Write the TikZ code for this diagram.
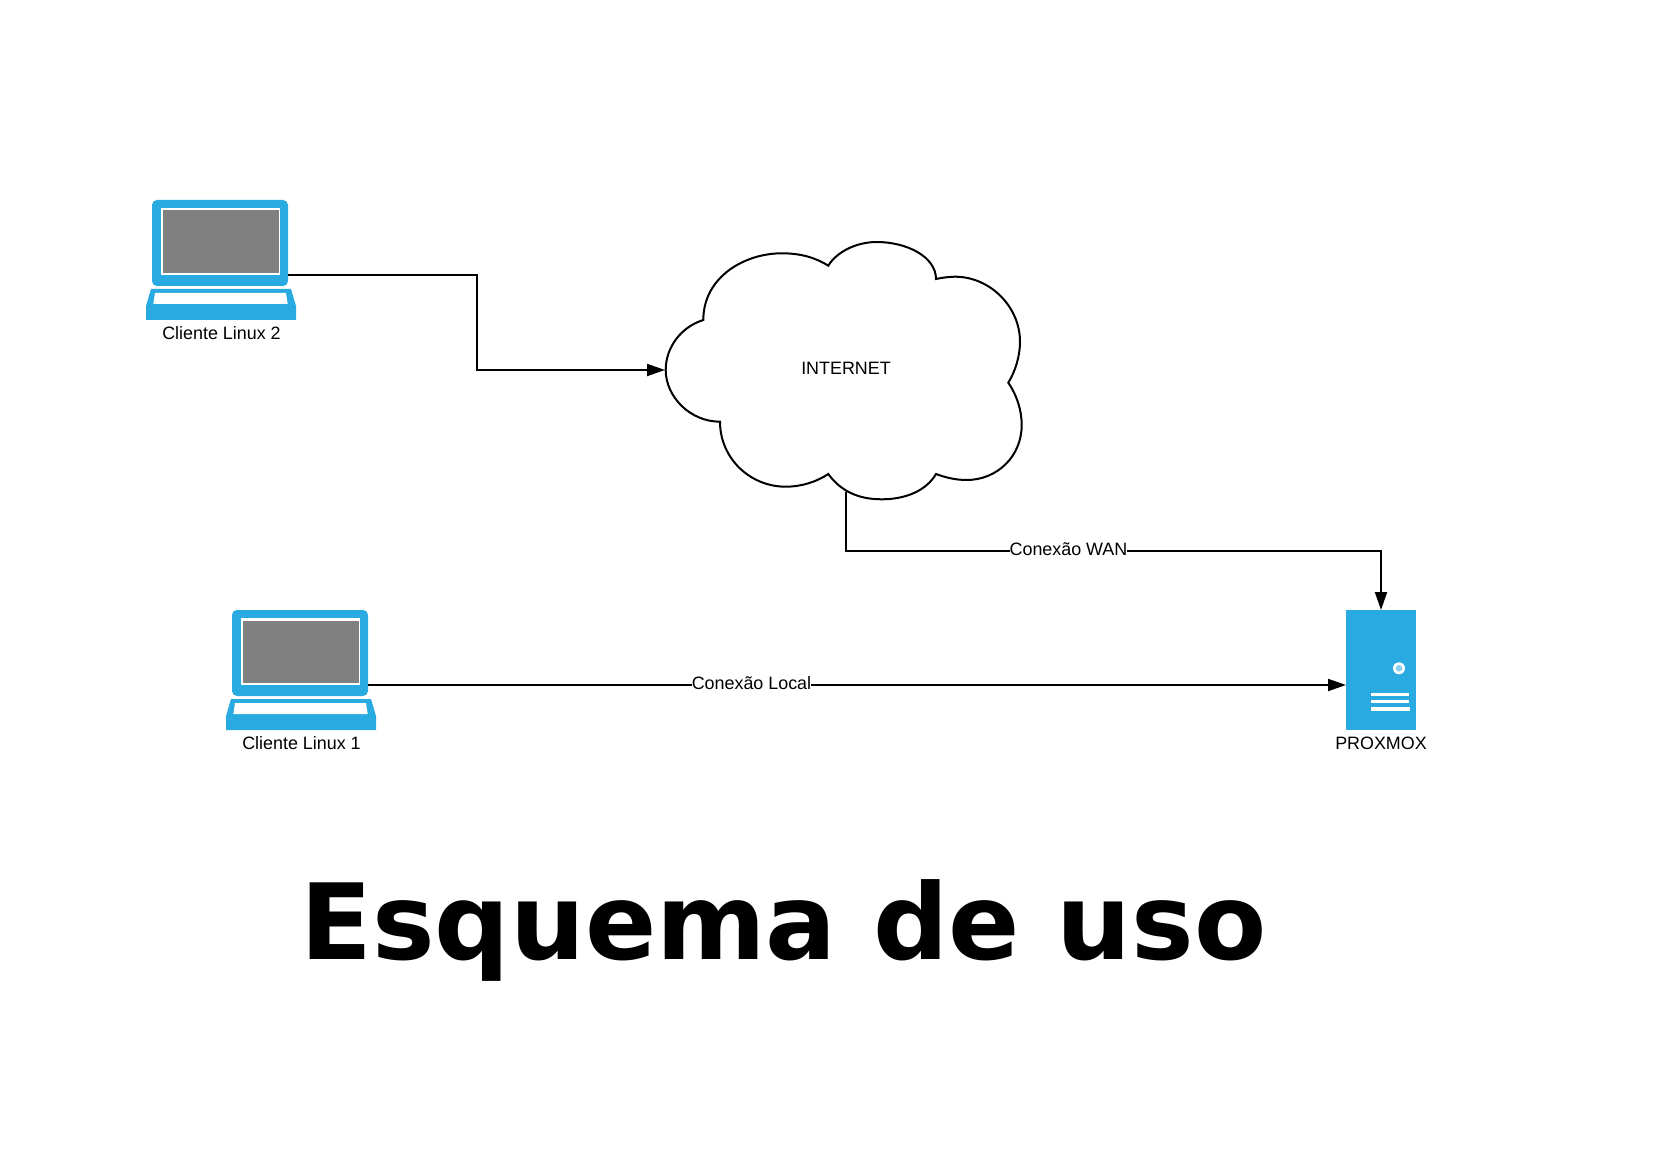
\documentclass[tikz,border=0pt]{standalone}
\usepackage{fontspec}
\setmainfont{Liberation Sans}
\newfontfamily\titlefont{DejaVu Sans}
\usetikzlibrary{arrows.meta}
\definecolor{devblue}{HTML}{29ABE2}
\definecolor{scr}{HTML}{808080}
\tikzset{
  x=1pt,y=-1pt,
  lbl/.style={inner sep=0pt,font=\fontsize{17.9}{20}\selectfont,text=black},
  wire/.style={draw=black,line width=2pt,-{Triangle[length=18pt,width=12pt]}},
  edgelbl/.style={fill=white,inner sep=0pt,font=\fontsize{17.9}{20}\selectfont},
  cloudline/.style={draw=black,line width=2pt,fill=white,line join=miter},
  laptop/.pic={
    \fill[devblue,rounded corners=5pt] (152,200) rectangle (288,286);
    \fill[white] (161,208) rectangle (280,275);
    \fill[scr] (163,210.5) rectangle (278.5,273);
    \fill[devblue] (151,289) -- (291,289) -- (296,306) -- (296,320) -- (146,320) -- (146,306) -- cycle;
    \fill[white] (155,293) -- (286,293) -- (287.7,304) -- (153.3,304) -- cycle;
  }
}
\begin{document}
\begin{tikzpicture}
\useasboundingbox (0,0) rectangle (1671,1158);
% devices
\pic at (0,0) {laptop};
\pic at (80,410) {laptop};
\coordinate (l2) at (288,275);
\coordinate (l1) at (368,685);
\node[lbl] (cl2) at (221.5,333) {Cliente Linux 2};
\node[lbl] (cl1) at (301.5,743) {Cliente Linux 1};
% server
\node[fill=devblue,minimum width=70pt,minimum height=120pt,inner sep=0pt,anchor=north west] (srv) at (1346,610) {};
\fill[white] (1399,668.3) circle (6pt);
\fill[devblue!55!white] (1399,668.3) circle (3.4pt);
\fill[white] (1371,693) rectangle (1409,695.7);
\fill[white] (1371,700) rectangle (1409,703);
\fill[white] (1371,707) rectangle (1410,710.7);
\node[lbl] (prox) at (1381,743) {PROXMOX};
% cloud
\path[cloudline] (703.3,320)
 .. controls (703.3,276.7) and (745,253.3) .. (781.7,253.3)
 .. controls (800,253.3) and (815,257.3) .. (828.3,265.7)
 .. controls (836.7,251.7) and (856.7,242) .. (876.7,242)
 .. controls (906.7,242) and (936,256.7) .. (936,279)
 .. controls (943,277.5) and (950,276.7) .. (955,276.7)
 .. controls (990,276.7) and (1020,306.7) .. (1020,341.7)
 .. controls (1020,356.7) and (1015,371.7) .. (1008.3,382.7)
 .. controls (1016.7,395) and (1021.7,410) .. (1021.7,425)
 .. controls (1021.7,456.7) and (996.7,480) .. (966.7,480)
 .. controls (955,480) and (945,477.3) .. (936,474)
 .. controls (926.7,490) and (906.7,499.3) .. (881.7,499.3)
 .. controls (856.7,499.3) and (840,490) .. (828.3,474)
 .. controls (816.7,481.7) and (801.7,486.7) .. (785.7,486.7)
 .. controls (750,486.7) and (720,458.3) .. (720,421.7)
 .. controls (690,421.7) and (665.7,396.7) .. (665.7,370)
 .. controls (665.7,346.7) and (681.7,326.7) .. (703.3,320) -- cycle;
\node[inner sep=0pt,font=\fontsize{17.9}{20}\selectfont] (inet) at (846,368) {INTERNET};
\coordinate (cin) at (665,370);
\coordinate (cout) at (846,491.5);
\coordinate (srvtop) at (1381,610);
\coordinate (srvleft) at (1346,685);
% connectors
\draw[wire] (l2) -- (476.7,275) -- (476.7,370) -- (cin);
\draw[wire] (cout) -- (846,551) -- (1381,551) -- (srvtop);
\draw[wire] (l1) -- (srvleft);
\node[edgelbl] (wan) at (1068.5,549) {Conexão WAN};
\node[edgelbl] (loc) at (751.5,683) {Conexão Local};
% title
\node[inner sep=0pt,text=black,font=\titlefont\bfseries\fontsize{105.2}{120}\selectfont,anchor=base] (ttl) at (783.5,959) {Esquema de uso};
\end{tikzpicture}
\end{document}
